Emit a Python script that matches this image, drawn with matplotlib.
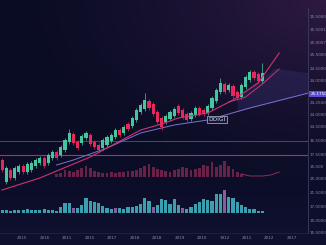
import numpy as np
import matplotlib
matplotlib.use("Agg")
import matplotlib.pyplot as plt

# ---------------- data ----------------
opens = [85, 63, 75, 67, 73, 79, 73, 75, 79, 82, 87, 82, 87, 93, 90, 95, 103, 111, 103, 102,
         107, 110, 103, 100, 97, 100, 104, 108, 115, 112, 121, 119, 125, 133, 136, 144, 141, 133, 127, 123,
         126, 129, 139, 135, 131, 126, 130, 137, 135, 132, 137, 144, 153, 161, 155, 159, 153, 148, 158, 165,
         173, 171, 164]
closes = [75, 77, 67, 77, 79, 73, 81, 82, 85, 87, 79, 90, 93, 87, 98, 105, 112, 102, 97, 109,
          112, 101, 98, 95, 105, 108, 110, 115, 110, 118, 116, 127, 135, 140, 145, 137, 131, 123, 118, 129,
          133, 136, 132, 128, 125, 132, 137, 131, 131, 139, 147, 155, 162, 153, 160, 149, 147, 160, 168, 173,
          167, 164, 172]
highs = [87, 79, 77, 79, 81, 81, 83, 84, 87, 89, 89, 92, 95, 95, 100, 107, 116, 113, 105, 111,
         114, 112, 105, 102, 107, 110, 112, 117, 117, 120, 123, 129, 137, 142, 152, 146, 143, 135, 129, 131,
         135, 138, 141, 137, 133, 134, 139, 139, 137, 141, 149, 157, 167, 163, 162, 161, 155, 162, 170, 175,
         175, 173, 182]
lows = [73, 61, 65, 65, 71, 71, 71, 73, 77, 80, 77, 80, 85, 85, 88, 93, 101, 100, 95, 100,
        105, 99, 96, 93, 95, 98, 102, 106, 108, 110, 114, 117, 123, 131, 134, 135, 129, 121, 115, 121,
        124, 127, 130, 126, 123, 124, 128, 129, 129, 130, 135, 142, 151, 151, 153, 147, 145, 146, 156, 163,
        165, 162, 162]

volume = [3, 3, 2, 3, 3, 3, 4, 3, 3, 3, 4, 3, 3, 2,
          6, 10, 10, 5, 5, 8, 15, 12, 11, 10, 7,
          5, 4, 5, 5, 4, 6, 6, 7, 9, 15, 12, 6, 8,
          14, 13, 9, 14, 8, 5, 4, 6, 9, 11, 14, 13, 12, 19, 19, 23, 16, 15, 11, 8, 6, 4, 4, 2, 2]
volume_marked = [17, 27, 36, 43, 53]

osc_start = 13
osc = [3, 4, 7, 6, 5, 7, 9, 11, 9, 6, 5, 4, 4, 5, 4, 5, 5, 6, 6, 7, 9, 11, 13, 10, 8,
       7, 6, 5, 7, 8, 10, 9, 7, 8, 9, 12, 11, 15, 10, 12, 16, 11, 8, 5, 3]
osc_line_idx = [57, 59, 62, 64, 66]
osc_line_val = [3, 1, 1, 2, 5]

ma1_idx = [0, 9, 21, 33, 38, 42, 49, 55, 61, 66]
ma1_val = [55, 67, 88, 115, 121, 127, 132, 145, 162, 192]
ma2_idx = [54, 58, 62, 66]
ma2_val = [143, 148, 161, 176]
ma3_idx = [13, 17, 25, 33, 41, 49, 59, 73]
ma3_val = [80, 85, 97, 112, 120, 125, 137, 152]
cloud_idx = [56, 60, 65, 73]
cloud_top = [145, 162, 177, 172]

level_lines = [104, 90]

year_labels = ["2015", "2016", "2011", "2015", "2017", "2018", "2018",
               "2019", "2010", "1912", "2011", "2012", "2017"]
price_ticks = [228, 215, 202, 190, 177, 164, 142, 131, 118, 104, 91, 79, 66, 52, 39, 25, 13]
price_labels = ["15.5000", "15.5001", "25.0007", "25.5000", "24.5000", "24.0000", "24.2500",
                "24.0000", "24.5000", "16.5000", "17.5000", "15.000", "25.0000", "21.5000",
                "17.0000", "15.0000", "15.5000"]
last_price = 151
last_label = "25.1750"
annotation = "DOIGI"
annotation_pos = (51.1, 125.5)

# ---------------- figure ----------------
W, H = 326, 245
fig = plt.figure(figsize=(W / 100, H / 100), dpi=100)
fig.patch.set_facecolor("#0b0d26")

# background gradient
bg = fig.add_axes([0, 0, 1, 1])
bg.set_zorder(-5)
yy, xx = np.mgrid[0:H, 0:W]
u = xx / W
w = yy / H
base = np.array([10, 12, 36]) / 255
purple = np.array([46, 26, 66]) / 255
blue = np.array([18, 20, 54]) / 255
d = np.sqrt((u - 1.0) ** 2 + (w * 1.2) ** 2)
wp = np.clip(1 - d / 0.95, 0, 1) ** 1.3
wb = np.clip((w - 0.55) / 0.45, 0, 1) * 0.6
img = base[None, None, :] * (1 - wp[..., None]) + purple[None, None, :] * wp[..., None]
img = img * (1 - wb[..., None]) + blue[None, None, :] * wb[..., None]
bg.imshow(img, extent=[0, 1, 0, 1], aspect="auto", origin="upper")
bg.axis("off")

xl = (-0.48, 72.86)
ax = fig.add_axes([0, 12 / H, 308 / W, 233 / H])
ax.set_facecolor("none")
ax.set_xlim(*xl)
ax.set_ylim(12, 245)
for s in ("top", "left"):
    ax.spines[s].set_visible(False)
ax.spines["right"].set_color("#3b3e60")
ax.spines["right"].set_linewidth(0.6)
ax.spines["right"].set_bounds(12, 237)
ax.spines["bottom"].set_color("#24274c")
ax.spines["bottom"].set_linewidth(0.5)

# candles
o = np.array(opens, float)
c = np.array(closes, float)
idx = np.arange(len(o))
up = c >= o
green, red = "#46c6a0", "#e6285c"
cols = np.where(up, green, red)
ax.vlines(idx, lows, highs, colors=cols, lw=0.5, zorder=3)
ax.bar(idx, np.abs(c - o), bottom=np.minimum(o, c), width=0.72, color=cols, linewidth=0, zorder=4)

# level lines
ax.axhline(level_lines[0], color="#8c2a58", lw=0.7, zorder=2)
ax.axhline(level_lines[1], color="#b92d5e", lw=0.8, zorder=2)

# cloud
xs = np.linspace(cloud_idx[0], cloud_idx[-1], 60)
ax.fill_between(xs, np.interp(xs, ma3_idx, ma3_val), np.interp(xs, cloud_idx, cloud_top),
                color="#5a5cc4", alpha=0.16, linewidth=0, zorder=1)

# moving averages
ax.plot(ma3_idx, ma3_val, color="#7a72d6", lw=0.7, zorder=2)
ax.plot(ma1_idx, ma1_val, color="#cc3470", lw=0.8, zorder=5)
ax.plot(ma2_idx, ma2_val, color="#cc3470", lw=0.7, zorder=5)

# annotation box
ax.text(*annotation_pos, annotation, fontsize=4.2, color="#dcdcea", ha="center", va="center",
        zorder=6, bbox=dict(boxstyle="square,pad=0.25", fc="#141738", ec="#b8bbd0", lw=0.5))

# ticks
ax.set_xticks(np.linspace(4.8, 69.0, len(year_labels)))
ax.set_xticklabels(year_labels)
ax.yaxis.tick_right()
ax.set_yticks(price_ticks)
ax.set_yticklabels(price_labels)
ax.tick_params(axis="x", length=0, pad=2.2, labelsize=3, labelcolor="#8a8ca6")
ax.tick_params(axis="y", length=0, pad=1.4, labelsize=3, labelcolor="#8a8ca6")

ax.annotate(last_label, xy=(1.0, last_price), xycoords=("axes fraction", "data"),
            xytext=(1.6, 0), textcoords="offset points", fontsize=3, color="#ffffff",
            ha="left", va="center", zorder=7,
            bbox=dict(boxstyle="square,pad=0.35", fc="#5a4fd2", ec="none"))

# oscillator bars (maroon)
ax2 = fig.add_axes([0, (H - 177) / H, 308 / W, 30 / H])
ax2.set_facecolor("none")
ax2.set_xlim(*xl)
ax2.set_ylim(0, 30)
ax2.axis("off")
oi = np.arange(osc_start, osc_start + len(osc))
ax2.bar(oi, osc, width=0.7, color="#75244c", linewidth=0, alpha=0.9)
ax2.plot(osc_line_idx, osc_line_val, color="#8e2c5a", lw=0.7)

# volume bars
ax3 = fig.add_axes([0, (H - 213) / H, 308 / W, 40 / H])
ax3.set_facecolor("none")
ax3.set_xlim(*xl)
ax3.set_ylim(0, 40)
ax3.axis("off")
vcols = ["#8a5a9c" if i in volume_marked else "#3c9fb0" for i in range(len(volume))]
ax3.bar(np.arange(len(volume)), volume, width=0.72, color=vcols, linewidth=0)
ax3.axhline(0, color="#3a3e5e", lw=0.6)

fig.savefig("out.png", dpi=100, facecolor=fig.get_facecolor())
